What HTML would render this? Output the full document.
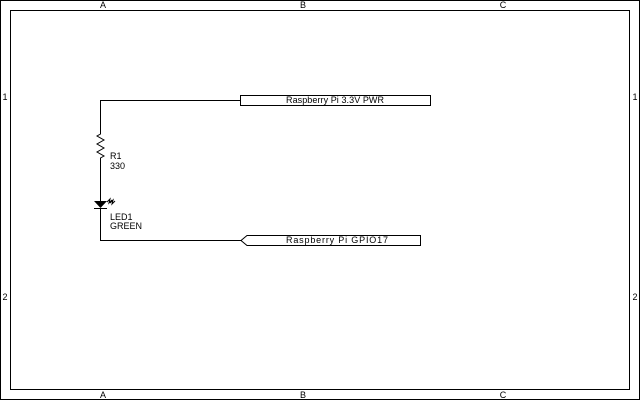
<!DOCTYPE html>
<html><head><style>
html,body{margin:0;padding:0;background:#fff;}
svg{display:block;}
text{font-family:"Liberation Sans",sans-serif;font-size:9px;fill:#000;}
</style></head><body>
<svg width="640" height="400" viewBox="0 0 640 400" xmlns="http://www.w3.org/2000/svg">
<rect x="0.5" y="0.5" width="639" height="399" fill="none" stroke="#000"/>
<rect x="10.5" y="10.5" width="619" height="379" fill="none" stroke="#000"/>
<text x="103" y="8" text-anchor="middle">A</text>
<text x="303" y="8" text-anchor="middle">B</text>
<text x="503" y="8" text-anchor="middle">C</text>
<text x="103" y="398" text-anchor="middle">A</text>
<text x="303" y="398" text-anchor="middle">B</text>
<text x="503" y="398" text-anchor="middle">C</text>
<text x="5" y="100" text-anchor="middle">1</text>
<text x="5" y="300" text-anchor="middle">2</text>
<text x="635" y="100" text-anchor="middle">1</text>
<text x="635" y="300" text-anchor="middle">2</text>
<g fill="none" stroke="#000" stroke-width="1">
<polyline points="240,100.5 100.5,100.5 100.5,134 97,136 104,140 97,144 104,148 97,152 104,156 100.5,158 100.5,202"/>
<polyline points="100.5,208 100.5,240.5 242,240.5"/>
<rect x="240.5" y="95.5" width="190" height="10"/>
<polygon points="241,240.5 247,235.5 420.5,235.5 420.5,245.5 247,245.5"/>
<line x1="94" y1="208.5" x2="107" y2="208.5"/>
<polyline points="107,202 110,199 109,203 112,200"/>
<polyline points="110,203 113,200 112,204 115,201" />
</g>
<polygon points="94,201 107,201 100.5,208" fill="#000"/>
<text x="110" y="159">R1</text>
<text x="110" y="169">330</text>
<text x="110" y="220">LED1</text>
<text x="110" y="229">GREEN</text>
<text x="335" y="103" text-anchor="middle" textLength="98">Raspberry Pi 3.3V PWR</text>
<text x="286" y="243" textLength="102">Raspberry Pi GPIO17</text>
</svg>
</body></html>
